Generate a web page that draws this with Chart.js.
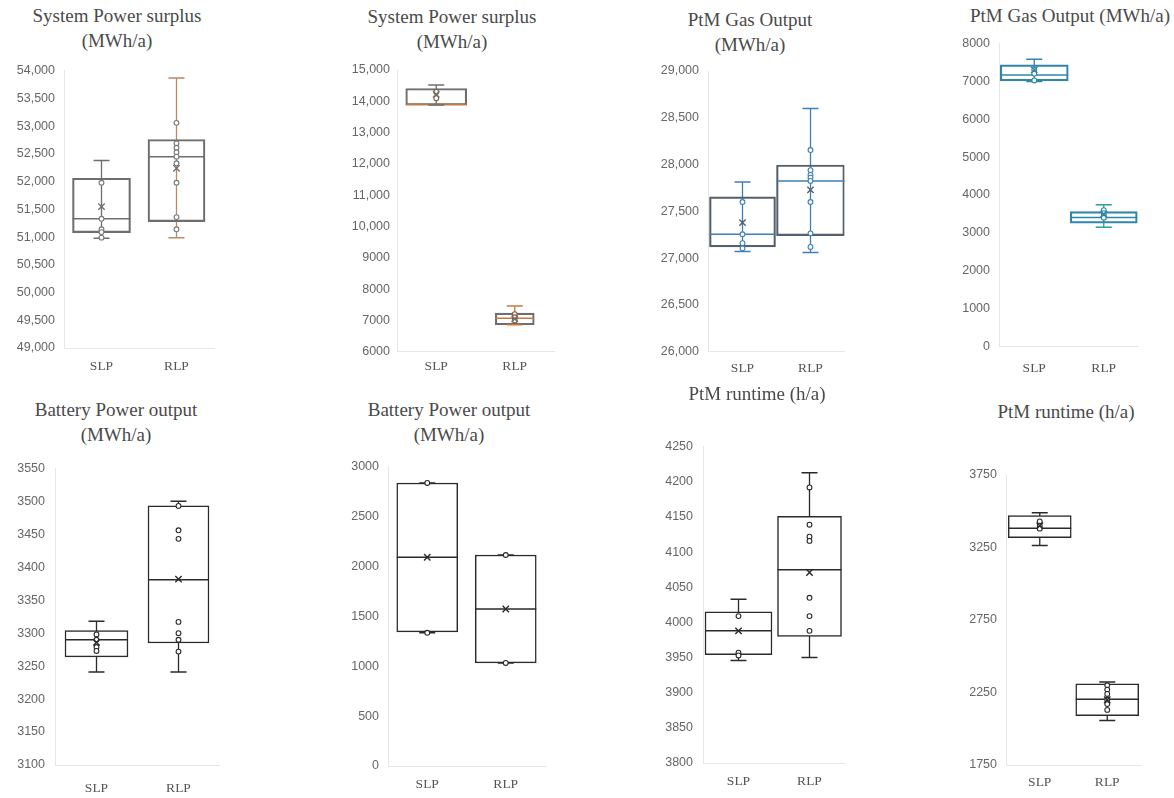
<!DOCTYPE html>
<html>
<head>
<meta charset="utf-8">
<script src="https://cdn.jsdelivr.net/npm/chart.js@4.4.1/dist/chart.umd.min.js"></script>
<style>
  html, body { margin: 0; padding: 0; background: #ffffff; }
  body { width: 1174px; height: 798px; position: relative; overflow: hidden; }
  canvas { position: absolute; }
  .ttl { position: absolute; font-family: "Liberation Serif", "DejaVu Serif", serif; font-size: 19px; color: #4a4a4a; text-align: center; line-height: 25px; white-space: nowrap; transform: translateX(-50%); }
</style>
</head>
<body>
<script>
// ---------------- DATA ----------------
const categories = ['SLP', 'RLP'];

// Chart 1: System Power surplus (MWh/a) – left panel
const sps1Min    = [50980, 50990];
const sps1Q1     = [51080, 51280];
const sps1Median = [51330, 52450];
const sps1Q3     = [52060, 52760];
const sps1Max    = [52380, 53870];
const sps1Mean   = [51550, 52240];
const sps1Points = [[51980, 51330, 51140, 51090, 50990], [53060, 52690, 52610, 52530, 52450, 52330, 51980, 51360, 51140]];
const sps1Ticks  = [49000, 49500, 50000, 50500, 51000, 51500, 52000, 52500, 53000, 53500, 54000];

// Chart 2: System Power surplus (MWh/a) – right panel
const sps2Min    = [13880, 6860];
const sps2Q1     = [13880, 6860];
const sps2Median = [13900, 7070];
const sps2Q3     = [14410, 7230];
const sps2Max    = [14520, 7460];
const sps2Mean   = [14220, 7050];
const sps2Points = [[14300, 14100], [7200, 7100, 7000]];
const sps2Ticks  = [6000, 7000, 8000, 9000, 10000, 11000, 12000, 13000, 14000, 15000];

// Chart 3: PtM Gas Output (MWh/a) – left panel
const gas1Min    = [27070, 27060];
const gas1Q1     = [27120, 27240];
const gas1Median = [27255, 27825];
const gas1Q3     = [27655, 27995];
const gas1Max    = [27815, 28600];
const gas1Mean   = [27380, 27730];
const gas1Points = [[27600, 27255, 27160, 27105], [28155, 27940, 27890, 27860, 27825, 27600, 27265, 27120]];
const gas1Ticks  = [26000, 26500, 27000, 27500, 28000, 28500, 29000];

// Chart 4: PtM Gas Output (MWh/a) – right panel
const gas2Min    = [6990, 3150];
const gas2Q1     = [7010, 3260];
const gas2Median = [7165, 3410];
const gas2Q3     = [7430, 3560];
const gas2Max    = [7580, 3740];
const gas2Mean   = [7300, 3500];
const gas2Points = [[7300, 7200, 7020], [3600, 3520, 3450, 3400]];
const gas2Ticks  = [0, 1000, 2000, 3000, 4000, 5000, 6000, 7000, 8000];

// Chart 5: Battery Power output (MWh/a) – left panel
const bat1Min    = [3241, 3241];
const bat1Q1     = [3264, 3285];
const bat1Median = [3290, 3381];
const bat1Q3     = [3304, 3493];
const bat1Max    = [3318, 3500];
const bat1Mean   = [3286, 3382];
const bat1Points = [[3298, 3290, 3279, 3273], [3493, 3456, 3443, 3317, 3300, 3290, 3272]];
const bat1Ticks  = [3100, 3150, 3200, 3250, 3300, 3350, 3400, 3450, 3500, 3550];

// Chart 6: Battery Power output (MWh/a) – right panel
const bat2Min    = [1335, 1033];
const bat2Q1     = [1344, 1033];
const bat2Median = [2092, 1574];
const bat2Q3     = [2837, 2115];
const bat2Max    = [2837, 2115];
const bat2Mean   = [2092, 1574];
const bat2Points = [[2837, 1335], [2115, 1033]];
const bat2Ticks  = [0, 500, 1000, 1500, 2000, 2500, 3000];

// Chart 7: PtM runtime (h/a) – left panel
const run1Min    = [3946, 3950];
const run1Q1     = [3954, 3980];
const run1Median = [3988, 4075];
const run1Q3     = [4015, 4151];
const run1Max    = [4033, 4213];
const run1Mean   = [3988, 4071];
const run1Points = [[4009, 3957, 3953], [4192, 4139, 4122, 4116, 4035, 4009, 3988]];
const run1Ticks  = [3800, 3850, 3900, 3950, 4000, 4050, 4100, 4150, 4200, 4250];

// Chart 8: PtM runtime (h/a) – right panel
const run2Min    = [3263, 2057];
const run2Q1     = [3317, 2090];
const run2Median = [3383, 2203];
const run2Q3     = [3470, 2310];
const run2Max    = [3490, 2323];
const run2Mean   = [3400, 2200];
const run2Points = [[3430, 3400, 3380], [2300, 2270, 2240, 2200, 2170, 2130]];
const run2Ticks  = [1750, 2250, 2750, 3250, 3750];

// ---------------- LAYOUT / STYLE ----------------
// canvas: [left, top, width, height]; plot: [left, right, top, bottom] (page px)
const panels = [
  { title: ['System Power surplus', '(MWh/a)'], tx: 117, ty: 3,
    min: sps1Min, q1: sps1Q1, med: sps1Median, q3: sps1Q3, max: sps1Max, mean: sps1Mean, pts: sps1Points, ticks: sps1Ticks,
    canvas: [0, 20, 293, 370], plot: [64, 214, 70.7, 348], labelRight: 55, labelY: 366, boxW: [58, 57],
    box: '#6e6e6e', whisk: ['#6e6e6e', '#b98866'], med_c: '#6e6e6e', pt: '#777777', fill: 'rgba(255,255,255,0)' },
  { title: ['System Power surplus', '(MWh/a)'], tx: 452, ty: 4,
    min: sps2Min, q1: sps2Q1, med: sps2Median, q3: sps2Q3, max: sps2Max, mean: sps2Mean, pts: sps2Points, ticks: sps2Ticks,
    canvas: [293, 20, 293, 370], plot: [397, 565, 70, 351.7], labelRight: 390, labelY: 366, boxW: [61, 39],
    box: '#6e6e6e', whisk: ['#6e6e6e', '#c47a3e'], med_c: '#c47a3e', pt: '#8a5a35', fill: 'rgba(255,255,255,0)' },
  { title: ['PtM Gas Output', '(MWh/a)'], tx: 750, ty: 7,
    min: gas1Min, q1: gas1Q1, med: gas1Median, q3: gas1Q3, max: gas1Max, mean: gas1Mean, pts: gas1Points, ticks: gas1Ticks,
    canvas: [587, 20, 293, 370], plot: [708.5, 882.5, 71, 351.7], labelRight: 699, labelY: 368, boxW: [66, 68],
    box: '#55606b', whisk: ['#3d7fb8', '#3d7fb8'], med_c: '#3d7fb8', pt: '#3d7fb8', fill: 'rgba(255,255,255,0)' },
  { title: ['PtM Gas Output (MWh/a)'], tx: 1070, ty: 3,
    min: gas2Min, q1: gas2Q1, med: gas2Median, q3: gas2Q3, max: gas2Max, mean: gas2Mean, pts: gas2Points, ticks: gas2Ticks,
    canvas: [880, 0, 294, 390], plot: [999.5, 1173.5, 43.3, 346.7], labelRight: 990, labelY: 368, boxW: [68, 67],
    box: '#2f86a8', whisk: ['#2f86a8', '#2f9a9a'], med_c: '#2f86a8', pt: '#2a8a9a', fill: 'rgba(255,255,255,0)' },
  { title: ['Battery Power output', '(MWh/a)'], tx: 116, ty: 397,
    min: bat1Min, q1: bat1Q1, med: bat1Median, q3: bat1Q3, max: bat1Max, mean: bat1Mean, pts: bat1Points, ticks: bat1Ticks,
    canvas: [0, 410, 293, 388], plot: [55.5, 219.5, 468.3, 765], labelRight: 45, labelY: 788, boxW: [63, 61],
    box: '#2a2a2a', whisk: ['#2a2a2a', '#2a2a2a'], med_c: '#2a2a2a', pt: '#2a2a2a', fill: '#ffffff' },
  { title: ['Battery Power output', '(MWh/a)'], tx: 449, ty: 397,
    min: bat2Min, q1: bat2Q1, med: bat2Median, q3: bat2Q3, max: bat2Max, mean: bat2Mean, pts: bat2Points, ticks: bat2Ticks,
    canvas: [293, 410, 293, 388], plot: [388, 545, 466.7, 771.7], labelRight: 379, labelY: 790, boxW: [61, 61],
    box: '#2a2a2a', whisk: ['#2a2a2a', '#2a2a2a'], med_c: '#2a2a2a', pt: '#2a2a2a', fill: '#ffffff' },
  { title: ['PtM runtime (h/a)'], tx: 757, ty: 381,
    min: run1Min, q1: run1Q1, med: run1Median, q3: run1Q3, max: run1Max, mean: run1Mean, pts: run1Points, ticks: run1Ticks,
    canvas: [587, 400, 293, 398], plot: [703, 871, 446.7, 771.7], labelRight: 693, labelY: 790, boxW: [67, 64],
    box: '#2a2a2a', whisk: ['#2a2a2a', '#2a2a2a'], med_c: '#2a2a2a', pt: '#2a2a2a', fill: '#ffffff' },
  { title: ['PtM runtime (h/a)'], tx: 1066, ty: 399,
    min: run2Min, q1: run2Q1, med: run2Median, q3: run2Q3, max: run2Max, mean: run2Mean, pts: run2Points, ticks: run2Ticks,
    canvas: [880, 420, 294, 378], plot: [1006, 1168, 475, 775], labelRight: 997, labelY: 792, boxW: [63, 63],
    box: '#2a2a2a', whisk: ['#2a2a2a', '#2a2a2a'], med_c: '#2a2a2a', pt: '#2a2a2a', fill: '#ffffff' }
];

const X_AXIS_H = 34;

function fmt(v) {
  return v >= 10000 ? v.toLocaleString('en-US') : String(v);
}

panels.forEach((p) => {
  const t = document.createElement('div');
  t.className = 'ttl';
  t.style.left = p.tx + 'px';
  t.style.top = p.ty + 'px';
  t.innerHTML = p.title.join('<br>');
  document.body.appendChild(t);

  const [cl, ct, cw, ch] = p.canvas;
  const [pl, pr, pt, pb] = p.plot;
  const cv = document.createElement('canvas');
  cv.width = cw; cv.height = ch;
  cv.style.left = cl + 'px'; cv.style.top = ct + 'px';
  cv.style.width = cw + 'px'; cv.style.height = ch + 'px';
  document.body.appendChild(cv);

  const yMin = p.ticks[0], yMax = p.ticks[p.ticks.length - 1];
  const yAxisW = pl - cl;

  const datasets = [];
  categories.forEach((c, i) => {
    datasets.push({ // whisker line
      type: 'line', data: [{ x: c, y: p.min[i] }, { x: c, y: p.max[i] }],
      borderColor: p.whisk[i], borderWidth: 1.3, pointRadius: 0, order: 5
    });
    datasets.push({ // box Q1–Q3
      type: 'bar', data: categories.map((_, j) => j === i ? [p.q1[i], p.q3[i]] : null),
      backgroundColor: p.fill, borderColor: p.box, borderWidth: 1.5, borderSkipped: false,
      barThickness: p.boxW[i], grouped: false, order: 4
    });
    datasets.push({ // median
      type: 'line', data: [{ x: c, y: p.med[i] }], showLine: false,
      pointStyle: 'line', pointRadius: p.boxW[i] / 2, pointBorderColor: p.med_c, pointBorderWidth: 1.5, order: 3
    });
    datasets.push({ // whisker caps
      type: 'line', data: [{ x: c, y: p.min[i] }, { x: c, y: p.max[i] }], showLine: false,
      pointStyle: 'line', pointRadius: 8, pointBorderColor: p.whisk[i], pointBorderWidth: 1.5, order: 2
    });
    datasets.push({ // individual points
      type: 'line', data: p.pts[i].map(v => ({ x: c, y: v })), showLine: false,
      pointStyle: 'circle', pointRadius: 2.4, pointBackgroundColor: '#ffffff', pointBorderColor: p.pt, pointBorderWidth: 1.1, order: 1
    });
    datasets.push({ // mean
      type: 'line', data: [{ x: c, y: p.mean[i] }], showLine: false,
      pointStyle: 'crossRot', pointRadius: 4.5, pointBorderColor: p.box, pointBorderWidth: 1.4, order: 0
    });
  });

  const cfg = {
    type: 'bar',
    data: { labels: categories, datasets },
    options: {
      responsive: false, animation: false,
      layout: { padding: { left: 0, right: cl + cw - pr, top: pt - ct, bottom: ct + ch - pb - X_AXIS_H } },
      plugins: { legend: { display: false }, tooltip: { enabled: false } },
      scales: {
        x: {
          type: 'category', offset: true,
          grid: { display: false, drawTicks: false },
          border: { display: true, color: '#e6e6e6', width: 1 },
          ticks: { padding: p.labelY - pb - 8, color: '#555', font: { family: '"Liberation Serif", serif', size: 13.5 } },
          afterFit: s => { s.height = X_AXIS_H; }
        },
        y: {
          min: yMin, max: yMax,
          afterBuildTicks: s => { s.ticks = p.ticks.map(v => ({ value: v })); },
          grid: { display: false, drawTicks: false },
          border: { display: true, color: '#e6e6e6', width: 1 },
          ticks: { padding: pl - p.labelRight, color: '#666', font: { family: '"Liberation Sans", Arial, sans-serif', size: 12.5 }, callback: v => fmt(v) },
          afterFit: s => { s.width = yAxisW; }
        }
      }
    }
  };
  const chart = new Chart(cv, cfg);

  // make the plot area land exactly where the reference has it
  for (let k = 0; k < 4; k++) {
    const a = chart.chartArea;
    const pad = cfg.options.layout.padding;
    const dT = (pt - ct) - a.top, dB = (pb - ct) - a.bottom;
    const dL = (pl - cl) - a.left, dR = (pr - cl) - a.right;
    if (Math.abs(dT) < 0.2 && Math.abs(dB) < 0.2 && Math.abs(dL) < 0.2 && Math.abs(dR) < 0.2) break;
    pad.top += dT; pad.bottom -= dB; pad.right -= dR;
    chart.update();
  }
});
</script>
</body>
</html>
